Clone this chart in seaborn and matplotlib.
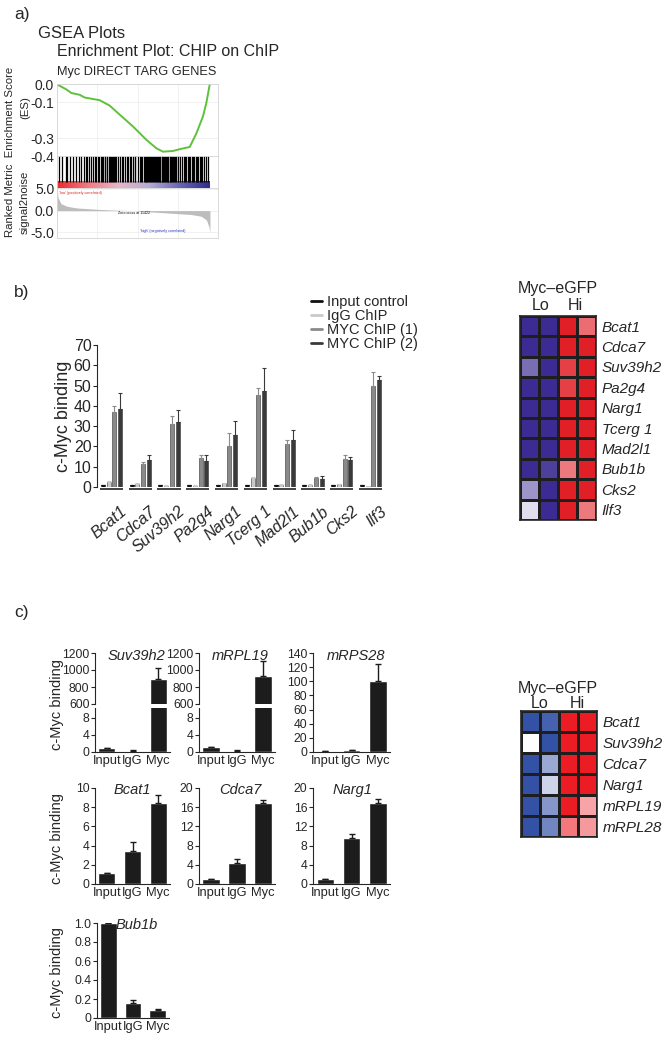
import numpy as np
import pandas as pd
import matplotlib
matplotlib.use("Agg")
import matplotlib.pyplot as plt
import matplotlib.transforms as mtransforms
from matplotlib.colors import LinearSegmentedColormap
from matplotlib.lines import Line2D
import seaborn as sns

W, H = 672, 1041

# ──────────────────────────────────────────
# Panel a: GSEA enrichment plot
# ──────────────────────────────────────────
es_rank = [0, 150, 1390, 2140, 3380, 4120, 4870, 6360, 7850, 9340, 11330, 13320,
           14810, 15800, 17290, 18530, 19780, 20770, 21760, 22260, 22760]
es_score = [0.0, -0.005, -0.03, -0.05, -0.06, -0.075, -0.08, -0.09, -0.12, -0.17, -0.236,
            -0.31, -0.357, -0.376, -0.372, -0.36, -0.35, -0.275, -0.18, -0.106, -0.004]
metric_rank = [0, 150, 600, 1500, 3000, 6000, 9000, 11422, 14000, 17000, 20000,
               21500, 22300, 22700, 22800]
metric_value = [5.5, 3.0, 1.6, 1.0, 0.6, 0.3, 0.1, 0.0, -0.3, -0.6, -0.9,
                -1.3, -2.2, -4.0, -5.2]
hit_rank = [300, 700, 1300, 1500, 2000, 2400, 2800,
            3300, 3600, 4000, 4300, 4500, 4700, 5000, 5300, 5600, 5800,
            6100, 6300, 6500, 6700, 6900, 7100, 7200, 7400, 7500, 7700, 7900, 8000, 8200,
            8400, 8500, 8700, 8800,
            9100, 9400, 9700, 9900, 10200, 10500, 10600, 10900, 11000, 11300, 11600, 11700,
            12000, 12300, 12500, 12700, 12900,
            13100, 13200, 13300, 13400, 13600, 13700, 13900, 14000, 14200, 14300, 14500,
            14600, 14700, 14900, 15000, 15200, 15300, 15400, 15600, 15700, 15800, 16000,
            16100, 16200, 16400, 16500, 16600, 16800, 16900, 17000, 17200, 17300, 17500,
            17600, 17800, 18000, 18100, 18300,
            18600, 18900, 19100, 19200, 19500, 19700, 19800, 20100, 20300, 20400, 20700,
            20900, 21000, 21300, 21500, 21600, 21900, 22200, 22500]
zero_cross = 11422

# ──────────────────────────────────────────
# Panel b: ChIP bars + heatmap
# ──────────────────────────────────────────
b_genes = ["Bcat1", "Cdca7", "Suv39h2", "Pa2g4", "Narg1", "Tcerg 1", "Mad2l1", "Bub1b", "Cks2", "Ilf3"]
b_conditions = ["Input control", "IgG ChIP", "MYC ChIP (1)", "MYC ChIP (2)"]
b_colors = ["#111111", "#c9c9c9", "#8a8a8a", "#3a3a3a"]
b_input = [1.0, 1.0, 0.8, 1.0, 1.0, 1.0, 1.0, 0.8, 0.8, 1.0]
b_igg = [2.7, 1.7, 0.7, 0.6, 1.8, 4.5, 1.1, 1.1, 1.3, 0.5]
b_myc1 = [37.0, 11.2, 31.0, 14.3, 20.0, 45.5, 21.3, 4.5, 13.8, 50.0]
b_myc2 = [38.5, 13.2, 32.0, 12.8, 25.5, 47.5, 23.0, 4.0, 13.3, 52.8]
b_input_err = [0.1, 0.1, 0.1, 0.1, 0.1, 0.1, 0.1, 0.1, 0.1, 0.1]
b_igg_err = [0.4, 0.3, 0.2, 0.2, 0.3, 0.5, 0.2, 0.2, 0.3, 0.1]
b_myc1_err = [3.0, 1.0, 3.8, 1.3, 6.5, 3.5, 1.7, 0.5, 1.8, 6.5]
b_myc2_err = [8.0, 2.5, 6.0, 2.8, 7.0, 11.0, 5.0, 1.5, 1.5, 2.0]

hm_b_genes = ["Bcat1", "Cdca7", "Suv39h2", "Pa2g4", "Narg1", "Tcerg 1", "Mad2l1", "Bub1b", "Cks2", "Ilf3"]
hm_b_lo1 = [-1, -1, -0.68, -1, -1, -1, -1, -1, -0.5, -0.15]
hm_b_lo2 = [-1, -1, -1, -1, -1, -1, -1, -0.9, -1, -1]
hm_b_hi1 = [1, 1, 0.85, 0.85, 1, 1, 1, 0.6, 1, 1]
hm_b_hi2 = [0.65, 1, 1, 1, 1, 1, 1, 1, 1, 0.6]

# ──────────────────────────────────────────
# Panel c: single-gene ChIP bars + heatmap
# ──────────────────────────────────────────
c_conditions = ["Input", "IgG", "Myc"]
c_genes = ["Suv39h2", "mRPL19", "mRPS28", "Bcat1", "Cdca7", "Narg1", "Bub1b"]
c_values = [[1.0, 0.3, 900], [1.2, 0.3, 930], [2.0, 2.5, 101], [1.1, 3.4, 8.4],
            [1.0, 4.4, 16.8], [1.0, 9.6, 16.8], [1.0, 0.16, 0.08]]
c_errors = [[0, 0.1, 125], [0, 0.1, 175], [0, 1.0, 24], [0, 1.0, 0.9],
            [0, 0.8, 0.8], [0, 0.9, 1.0], [0, 0.03, 0.015]]

hm_c_genes = ["Bcat1", "Suv39h2", "Cdca7", "Narg1", "mRPL19", "mRPL28"]
hm_c_lo1 = [-1, 0.0, -1, -1, -1, -1]
hm_c_lo2 = [-0.9, -1, -0.5, -0.25, -0.6, -0.7]
hm_c_hi1 = [1, 1, 1, 1, 1, 0.6]
hm_c_hi2 = [1, 1, 1, 1, 0.4, 0.45]

# ──────────────────────────────────────────
sns.set_style("ticks")
plt.rcParams["font.family"] = ["Liberation Sans", "DejaVu Sans"]
plt.rcParams["axes.unicode_minus"] = False

fig = plt.figure(figsize=(W / 100, H / 100), dpi=100)


def px_axes(x0, y0, x1, y1):
    return fig.add_axes([x0 / W, 1 - y1 / H, (x1 - x0) / W, (y1 - y0) / H])


def ftext(x, y, s, **kw):
    kw.setdefault("ha", "left")
    kw.setdefault("va", "center")
    fig.text(x / W, 1 - y / H, s, **kw)


# --- a) GSEA ---
ftext(14, 15, "a)", fontsize=12.5)
ftext(38, 33, "GSEA Plots", fontsize=12)
ftext(57, 52, "Enrichment Plot: CHIP on ChIP", fontsize=11.5)
ftext(57, 72, "Myc DIRECT TARG GENES", fontsize=9.2)
ftext(10, 152, "Ranked Metric  Enrichment Score", rotation=90, ha="center", fontsize=8.2)
ftext(25, 108, "(ES)", rotation=90, ha="center", fontsize=8.2)
ftext(25, 202, "signal2noise", rotation=90, ha="center", fontsize=8.2)

ax_es = px_axes(57, 84, 218, 156)
ax_hit = px_axes(57, 156, 218, 188)
ax_met = px_axes(57, 188, 218, 238)

sns.lineplot(x=es_rank, y=es_score, ax=ax_es, color="#5ec13c", linewidth=1.4)
ax_es.set_ylim(-0.4, 0.0)
ax_es.set_yticks([0.0, -0.1, -0.3, -0.4])
ax_es.set_yticklabels(["0.0", "-0.1", "-0.3", "-0.4"])

ax_hit.vlines(hit_rank, 0.2, 1.0, color="black", linewidth=0.9)
strip_cmap = LinearSegmentedColormap.from_list(
    "strip", ["#ea2a2e", "#f07a82", "#e6b6c8", "#b7acd2", "#6a66b4", "#2f2c92"])
ax_hit.imshow(np.linspace(0, 1, 256)[None, :], extent=(0, metric_rank[-1], 0, 0.19),
              aspect="auto", cmap=strip_cmap)
ax_hit.set_ylim(0, 1)
ax_hit.set_yticks([])

ax_met.fill_between(metric_rank, metric_value, 0, color="#bdbdbd", linewidth=0)
ax_met.set_ylim(-6.3, 5.2)
ax_met.set_yticks([5, 0, -5])
ax_met.set_yticklabels(["5.0", "0.0", "-5.0"])
ax_met.text(300, 4.1, "'low' (positively correlated)", color="#e02020", fontsize=2.6, va="center")
ax_met.text(zero_cross, -0.5, "Zero cross at 11422", color="black", fontsize=2.6,
            ha="center", va="center")
ax_met.text(12300, -4.6, "'high' (negatively correlated)", color="#2030c0", fontsize=2.6,
            va="center")

for ax in (ax_es, ax_hit, ax_met):
    ax.set_xlim(0, 24000)
    ax.set_xticks([0, 6000, 12000, 18000])
    ax.set_xticklabels([])
    ax.tick_params(length=0, labelsize=10, pad=2)
    ax.grid(color="#ececec", linewidth=0.5)
    ax.set_axisbelow(True)
    for s in ax.spines.values():
        s.set_color("#d4d4d4")
        s.set_linewidth(0.6)
ax_hit.grid(False)

# --- b) bars ---
ftext(14, 293, "b)", fontsize=12.5)
rows = []
for cond, vals, errs in zip(b_conditions, [b_input, b_igg, b_myc1, b_myc2],
                            [b_input_err, b_igg_err, b_myc1_err, b_myc2_err]):
    for g, v, e in zip(b_genes, vals, errs):
        rows.append({"gene": g, "condition": cond, "value": v, "err": e})
df_b = pd.DataFrame(rows)

axb = px_axes(97, 345, 385, 487)
sns.barplot(data=df_b, x="gene", y="value", hue="condition", order=b_genes,
            hue_order=b_conditions, palette=b_colors, errorbar=None, width=0.8, gap=0.3,
            saturation=1, edgecolor="#333333", linewidth=0.4, legend=False, ax=axb)
for cont, cond, col in zip(axb.containers, b_conditions, b_colors):
    errs = df_b[df_b["condition"] == cond].set_index("gene").loc[b_genes, "err"].values
    xs = [p.get_x() + p.get_width() / 2 for p in cont]
    ys = [p.get_height() for p in cont]
    axb.errorbar(xs, ys, yerr=[np.zeros(len(errs)), errs], fmt="none",
                 ecolor=col, elinewidth=0.8, capsize=1.5, capthick=0.8)
axb.set_ylim(0, 70)
axb.set_yticks(range(0, 80, 10))
axb.set_xlim(-0.5, len(b_genes) - 0.5)
axb.set_xlabel("")
axb.set_ylabel("c-Myc binding", fontsize=13, labelpad=1)
sns.despine(ax=axb, bottom=True)
axb.tick_params(axis="y", labelsize=11.5, length=3, pad=1)
axb.tick_params(axis="x", length=0, pad=12)
axb.hlines([-1.0] * len(b_genes), np.arange(len(b_genes)) - 0.4, np.arange(len(b_genes)) + 0.4,
           color="#222222", linewidth=1.2, clip_on=False)
axb.set_xticks(range(len(b_genes)))
axb.set_xticklabels(b_genes, rotation=40, ha="right", va="top", rotation_mode="anchor",
                    fontstyle="italic", fontsize=11.5)
shift = mtransforms.ScaledTranslation(9 / 100, 0, fig.dpi_scale_trans)
for lab in axb.get_xticklabels():
    lab.set_transform(lab.get_transform() + shift)

handles = [Line2D([0], [0], color=c, linewidth=2) for c in b_colors]
axb.legend(handles, b_conditions, loc="upper left", bbox_to_anchor=(304 / W, 1 - 288 / H),
           bbox_transform=fig.transFigure, frameon=False, handlelength=0.7,
           handletextpad=0.4, labelspacing=0.0, fontsize=10.5, borderpad=0)

# --- b) heatmap ---
cmap_b = LinearSegmentedColormap.from_list("hb", ["#3b2b92", "#ffffff", "#e01f26"])
df_hb = pd.DataFrame({"Lo1": hm_b_lo1, "Lo2": hm_b_lo2, "Hi1": hm_b_hi1, "Hi2": hm_b_hi2},
                     index=hm_b_genes)
axhb = px_axes(520, 316, 596, 520)
sns.heatmap(df_hb, ax=axhb, cmap=cmap_b, vmin=-1, vmax=1, cbar=False,
            linewidths=0.9, linecolor="#1e1e1e", xticklabels=False)
axhb.yaxis.tick_right()
axhb.set_yticklabels(hm_b_genes, rotation=0, fontstyle="italic", fontsize=11)
axhb.tick_params(length=0, pad=4)
axhb.set_ylabel("")
for s in axhb.spines.values():
    s.set_visible(True)
    s.set_linewidth(1.2)
ftext(558, 289, "Myc\u2013eGFP", ha="center", fontsize=11.5)
ftext(541, 305, "Lo", ha="center", fontsize=11.5)
ftext(575, 305, "Hi", ha="center", fontsize=11.5)

# --- c) small bar charts ---
ftext(14, 612, "c)", fontsize=12.5)


def small_bars(ax, vals, errs, ylim, yticks, ylabels=None, xlabels=True):
    d = pd.DataFrame({"cond": c_conditions, "val": vals})
    sns.barplot(data=d, x="cond", y="val", color="#1c1c1c", width=0.66, errorbar=None,
                saturation=1, ax=ax)
    xs = [p.get_x() + p.get_width() / 2 for p in ax.patches]
    ys = [p.get_height() for p in ax.patches]
    ax.errorbar(xs, ys, yerr=[np.zeros(len(errs)), errs], fmt="none", ecolor="#1c1c1c",
                elinewidth=1, capsize=2, capthick=1)
    ax.set_ylim(*ylim)
    ax.set_yticks(yticks)
    if ylabels is not None:
        ax.set_yticklabels(ylabels)
    ax.set_xlabel("")
    ax.set_ylabel("")
    ax.tick_params(axis="y", labelsize=8.8, length=3, pad=1)
    ax.tick_params(axis="x", labelsize=9.3, length=0, pad=2)
    if not xlabels:
        ax.set_xticks([])
    sns.despine(ax=ax)


def broken_bars(x0, x1, vals, errs, title, tx):
    top = px_axes(x0, 653, x1, 704)
    bot = px_axes(x0, 708, x1, 752)
    small_bars(top, vals, errs, (600, 1200), [600, 800, 1000, 1200], xlabels=False)
    top.spines["bottom"].set_visible(False)
    small_bars(bot, vals, errs, (0, 10.3), [0, 4, 8])
    ftext(tx, 656, title, ha="center", fontstyle="italic", fontsize=10.5)


broken_bars(95, 170, c_values[0], c_errors[0], c_genes[0], 136)
broken_bars(199, 275, c_values[1], c_errors[1], c_genes[1], 240)

ax = px_axes(313, 653, 390, 752)
small_bars(ax, c_values[2], c_errors[2], (0, 140), range(0, 160, 20))
ftext(356, 656, c_genes[2], ha="center", fontstyle="italic", fontsize=10.5)

ax = px_axes(95, 788, 170, 884)
small_bars(ax, c_values[3], c_errors[3], (0, 10), range(0, 12, 2))
ftext(132, 790, c_genes[3], ha="center", fontstyle="italic", fontsize=10.5)

ax = px_axes(199, 788, 275, 884)
small_bars(ax, c_values[4], c_errors[4], (0, 20), range(0, 24, 4))
ftext(240, 790, c_genes[4], ha="center", fontstyle="italic", fontsize=10.5)

ax = px_axes(313, 788, 390, 884)
small_bars(ax, c_values[5], c_errors[5], (0, 20), range(0, 24, 4))
ftext(352, 790, c_genes[5], ha="center", fontstyle="italic", fontsize=10.5)

ax = px_axes(97, 923, 169, 1018)
small_bars(ax, c_values[6], c_errors[6], (0, 1.0), [0, 0.2, 0.4, 0.6, 0.8, 1.0],
           ylabels=["0", "0.2", "0.4", "0.6", "0.8", "1.0"])
ftext(137, 925, c_genes[6], ha="center", fontstyle="italic", fontsize=10.5)

for yc in (705, 838, 972):
    ftext(57, yc, "c-Myc binding", rotation=90, ha="center", fontsize=10.5)

# --- c) heatmap ---
cmap_c = LinearSegmentedColormap.from_list("hc", ["#3352a6", "#ffffff", "#ec1c24"])
df_hc = pd.DataFrame({"Lo1": hm_c_lo1, "Lo2": hm_c_lo2, "Hi1": hm_c_hi1, "Hi2": hm_c_hi2},
                     index=hm_c_genes)
axhc = px_axes(521, 711, 597, 837)
sns.heatmap(df_hc, ax=axhc, cmap=cmap_c, vmin=-1, vmax=1, cbar=False,
            linewidths=0.9, linecolor="#1e1e1e", xticklabels=False)
axhc.yaxis.tick_right()
axhc.set_yticklabels(hm_c_genes, rotation=0, fontstyle="italic", fontsize=11)
axhc.tick_params(length=0, pad=4)
axhc.set_ylabel("")
for s in axhc.spines.values():
    s.set_visible(True)
    s.set_linewidth(1.2)
ftext(558, 688, "Myc\u2013eGFP", ha="center", fontsize=11.5)
ftext(540, 704, "Lo", ha="center", fontsize=11.5)
ftext(577, 704, "Hi", ha="center", fontsize=11.5)

fig.savefig("out.png", dpi=100)
